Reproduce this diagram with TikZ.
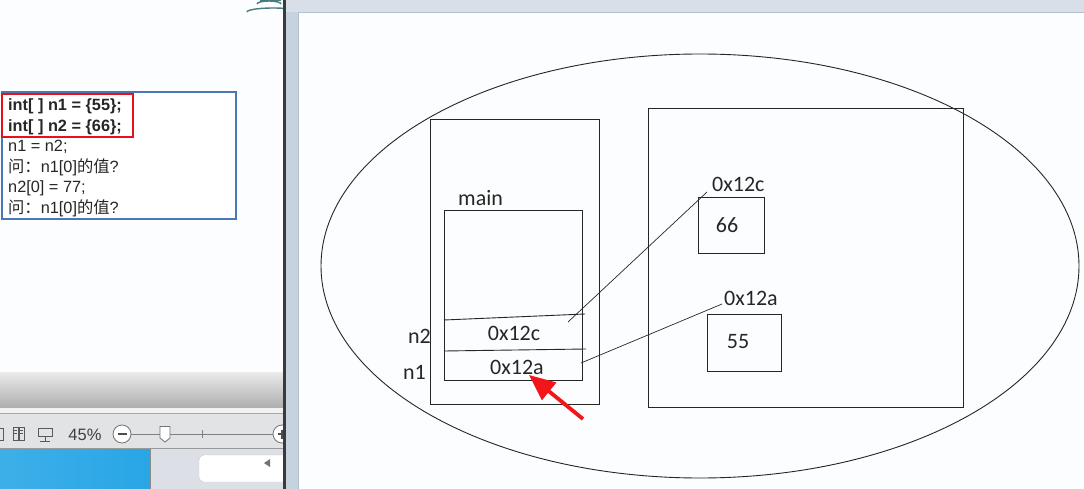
\documentclass[tikz,border=0pt]{standalone}
\usepackage{fontspec}
\setmainfont{Carlito}
\newfontfamily\arialf{Liberation Sans}
\newfontfamily\cjkf{Noto Sans CJK SC}
\usetikzlibrary{arrows.meta}
\definecolor{bgw}{HTML}{FCFDFE}
\definecolor{boxblue}{HTML}{4A78B4}
\definecolor{redbox}{HTML}{E8101A}
\definecolor{divdark}{HTML}{3A3A3A}
\definecolor{strip}{HTML}{C6D2DF}
\definecolor{topbar}{HTML}{D8DFE8}
\definecolor{topline}{HTML}{B3BFCC}
\definecolor{tbgray}{HTML}{E2E3E5}
\definecolor{sbblue}{HTML}{28A6E6}
\definecolor{sbgray}{HTML}{DCDFE5}
\definecolor{icon}{HTML}{5A5A5A}
\definecolor{arrred}{HTML}{F2161A}
\tikzset{
  codetxt/.style={anchor=base west, inner sep=0pt, font=\arialf\fontsize{16.3}{19}\selectfont, text=black!85},
  codebold/.style={codetxt, font=\arialf\bfseries\fontsize{16.3}{19}\selectfont},
  lbl/.style={inner sep=0pt, font=\fontsize{22}{26}\selectfont, text=black!85},
  frame/.style={draw=black!85, line width=0.9pt},
  conn/.style={draw=black!85, line width=0.7pt}
}
\begin{document}
\begin{tikzpicture}[x=1pt,y=-1pt]
\useasboundingbox (0,0) rectangle (1084,489);
\fill[bgw] (0,0) rectangle (1084,489);

% ---------- left panel ----------
\begin{scope}
\clip (0,0) rectangle (283,489);
% small icon at top
\draw[icon!80!cyan, line width=1.4pt] (257,4) arc[start angle=180, end angle=360, x radius=12, y radius=3];
\draw[icon!80!cyan, line width=1.4pt] (247,12) arc[start angle=180, end angle=300, x radius=26, y radius=4];
\draw[icon!80!cyan, line width=1.2pt] (260,0) -- (281,0);
% status bar
\shade[top color=black!8, bottom color=black!32] (0,372) rectangle (283,408);
\fill[black!5] (0,408) rectangle (283,413);
\fill[tbgray] (0,413) rectangle (283,448);
\draw[black!35] (0,413) -- (283,413);
\draw[black!40] (0,448.5) -- (283,448.5);
\fill[sbgray] (0,449) rectangle (283,489);
\shade[left color=sbblue!90!white, right color=sbblue] (0,449) rectangle (150,489);
\draw[black!45] (150.5,449) -- (150.5,489);
\filldraw[fill=white, draw=black!20, rounded corners=5pt] (199,455) rectangle (300,482);
\fill[black!55] (264,463) -- (270,459) -- (270,467) -- cycle;
% toolbar icons
\draw[icon, line width=0.8pt] (-2,428) rectangle (3,440);
\draw[icon, line width=0.8pt] (13,427) rectangle (18,440) (19,427) rectangle (24,440);
\draw[icon, line width=0.6pt] (14,430) -- (17,430) (14,433) -- (17,433) (20,430) -- (23,430) (20,433) -- (23,433);
\draw[icon, line width=0.9pt] (38,428) rectangle (52,436);
\draw[icon, line width=0.9pt] (45,436) -- (45,441) (40,441) -- (50,441);
\node[anchor=base, inner sep=0pt, font=\arialf\fontsize{16.5}{19}\selectfont, text=black!75] (zoomtxt) at (85,440) {45\%};
\draw[black!50, line width=0.7pt] (131,434) -- (275,434);
\draw[black!50, line width=0.7pt] (202,430) -- (202,438);
\filldraw[fill=white, draw=black!55, line width=0.8pt] (122,434) circle[radius=9];
\draw[black!70, line width=1.2pt] (117.5,434) -- (126.5,434);
\filldraw[fill=white, draw=black!55, line width=0.8pt] (160,426.5) -- (170,426.5) -- (170,438) -- (165,442) -- (160,438) -- cycle;
\filldraw[fill=white, draw=black!55, line width=0.8pt] (282,434) circle[radius=9];
\draw[black!70, line width=1.2pt] (277.5,434) -- (286.5,434) (282,429.5) -- (282,438.5);
% code box
\fill[white] (2,92) rectangle (236,219);
\draw[boxblue, line width=1.2pt] (2,92) rectangle (236,219);
\draw[redbox, line width=1.6pt] (2,94) rectangle (133,137);
\node[codebold] (c1) at (8,111) {int[ ] n1 = \{55\};};
\node[codebold] (c2) at (8,131.5) {int[ ] n2 = \{66\};};
\node[codetxt] (c3) at (8,152) {n1 = n2;};
\node[codetxt] (c4) at (8,172.5) {{\cjkf 问：}n1[0]{\cjkf 的值}?};
\node[codetxt] (c5) at (8,193) {n2[0] = 77;};
\node[codetxt] (c6) at (8,213.5) {{\cjkf 问：}n1[0]{\cjkf 的值}?};
\end{scope}

% ---------- window chrome ----------
\fill[divdark] (283,0) rectangle (285.5,489);
\fill[strip] (285.5,0) rectangle (298,489);
\fill[topbar] (285.5,0) rectangle (1084,12);
\draw[topline, line width=1pt] (298,12.5) -- (1084,12.5);
\draw[topline, line width=0.8pt] (298,12.5) -- (298,489);

% ---------- diagram ----------
\draw[frame] (700,266) ellipse[x radius=379, y radius=212];
% stack
\draw[frame] (430,119) rectangle (599,404);
\node[lbl, anchor=base west] (mainlbl) at (458,206) {main};
\draw[frame] (444,210) rectangle (582,380);
\draw[frame] (444,320) -- (585,314);
\draw[frame] (444,351) -- (586,349);
\node[lbl] (cellc) at (514,333) {0x12c};
\node[lbl] (cella) at (517,367) {0x12a};
\node[lbl, anchor=east] (n2lbl) at (431,336) {n2};
\node[lbl, anchor=east] (n1lbl) at (426,372) {n1};
% heap
\draw[frame] (648,108) rectangle (963,407);
\draw[frame] (698,197) rectangle (764,253);
\node[lbl] (v66) at (727,225) {66};
\node[lbl, anchor=west] (addrc) at (712,184) {0x12c};
\draw[frame] (707,314) rectangle (781,371);
\node[lbl] (v55) at (738,342) {55};
\node[lbl, anchor=west] (addra) at (724,298) {0x12a};
% connectors
\coordinate (pc) at (568,322);
\coordinate (qc) at (707,192);
\coordinate (pa) at (581,363);
\coordinate (qa) at (722,304);
\draw[conn] (pc) -- (qc);
\draw[conn] (pa) -- (qa);
% red arrow
\coordinate (atail) at (583,419);
\coordinate (atip) at (529,375);
\draw[arrred, line width=3.8pt, -{Triangle[length=26pt, width=22pt]}] (atail) -- (atip);
\end{tikzpicture}
\end{document}
